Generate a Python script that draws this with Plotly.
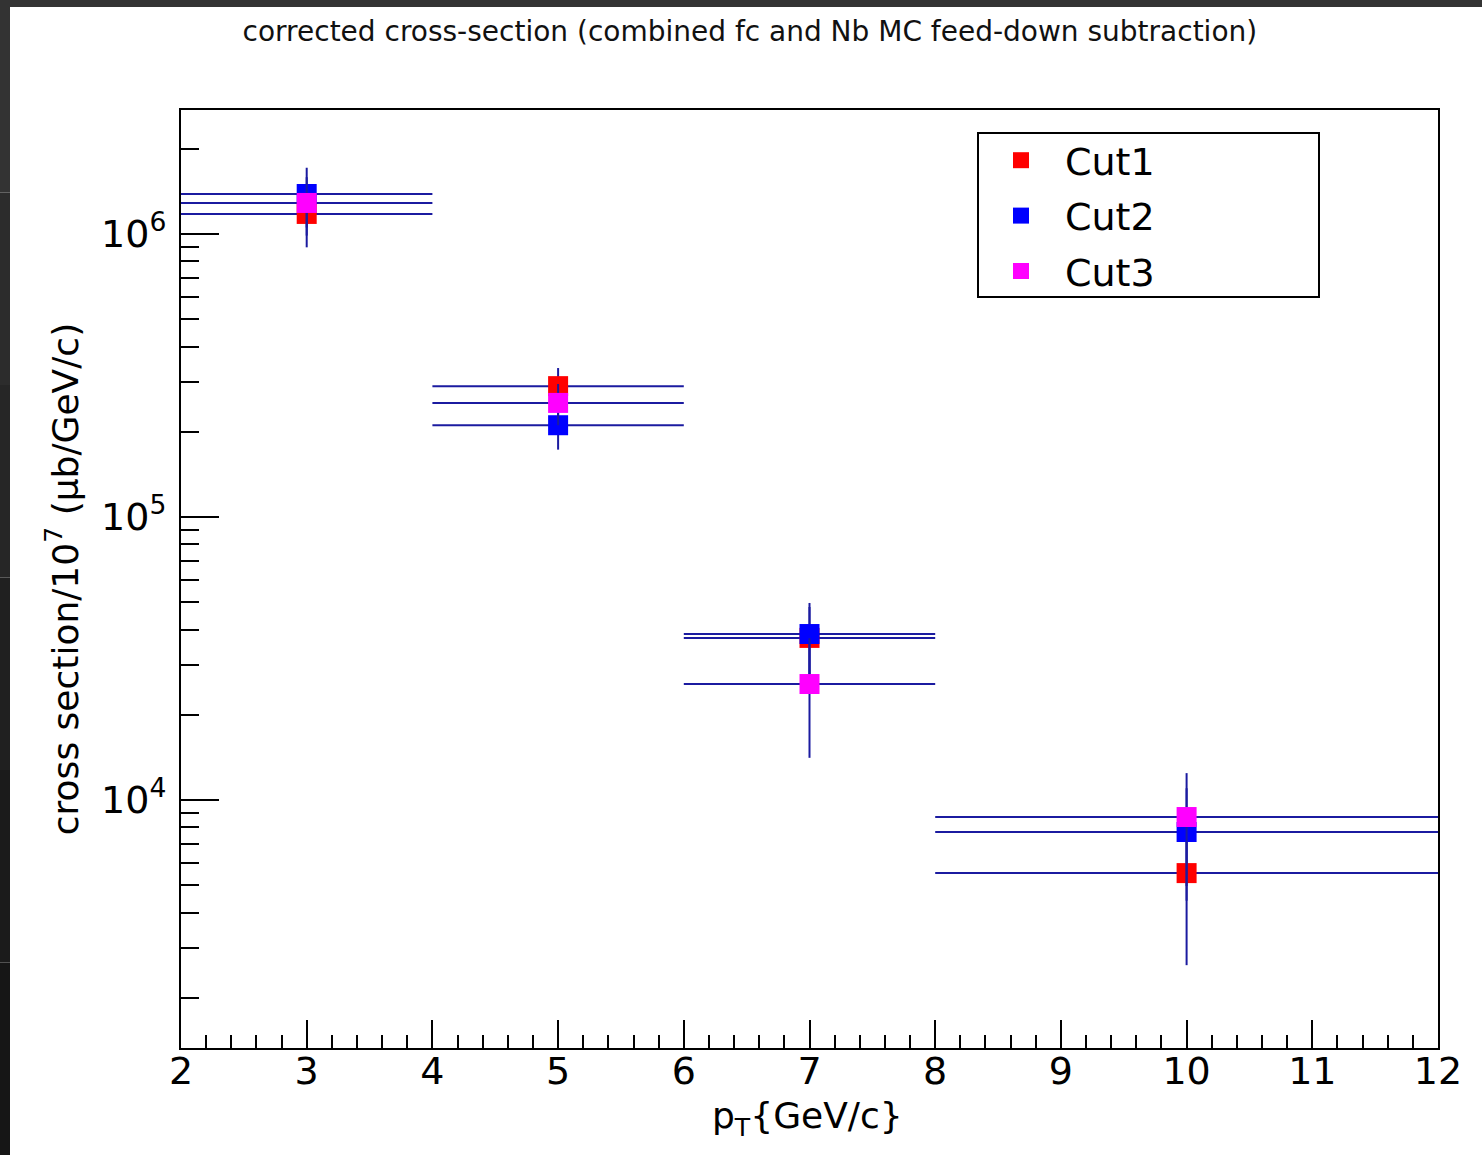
import plotly.graph_objects as go

# pT bin centres and half-widths (GeV/c)
pt_centres = [3, 5, 7, 10]
pt_halfwidths = [1, 1, 1, 2]

# corrected cross-section / 10^7 (ub/GeV/c) and statistical errors
cut1_vals = [1.177e6, 2.90e5, 3.74e4, 5.52e3]
cut1_errs = [0.28e6, 0.46e5, 1.07e4, 2.91e3]
cut2_vals = [1.384e6, 2.11e5, 3.86e4, 7.71e3]
cut2_errs = [0.33e6, 0.38e5, 1.11e4, 3.30e3]
cut3_vals = [1.287e6, 2.53e5, 2.57e4, 8.71e3]
cut3_errs = [0.30e6, 0.42e5, 1.16e4, 3.74e3]

series_names = ["Cut1", "Cut2", "Cut3"]
series_colors = ["#ff0000", "#0000ff", "#ff00ff"]
x_tick_vals = list(range(2, 13))
y_tick_vals = [1e4, 1e5, 1e6]
y_tick_text = ["10<sup>4</sup>", "10<sup>5</sup>", "10<sup>6</sup>"]

FONT = "DejaVu Sans"
ERR_COLOR = "#1b1ba0"

W, H = 1482, 1155
ML, MR, MT, MB = 181, 44, 110, 107
PW, PH = W - ML - MR, H - MT - MB


def px_x(px):
    return (px - ML) / PW


def px_y(py):
    return (H - MB - py) / PH


fig = go.Figure()

for i, (name, color, vals, errs) in enumerate(zip(
        series_names, series_colors,
        [cut1_vals, cut2_vals, cut3_vals],
        [cut1_errs, cut2_errs, cut3_errs])):
    fig.add_trace(go.Scatter(
        x=pt_centres, y=vals, mode="markers", name=name,
        legendgroup=name,
        marker=dict(symbol="square", size=20, color=color, line=dict(width=0)),
        error_x=dict(type="data", array=pt_halfwidths, color=ERR_COLOR,
                     thickness=2, width=0),
        error_y=dict(type="data", array=errs, color=ERR_COLOR,
                     thickness=2, width=0),
    ))

# minor tick positions: 2..9 in each decade
y_minor = [m * 10 ** e for e in range(3, 7) for m in range(2, 10)]

shapes = [
    # legend frame
    dict(type="rect", xref="paper", yref="paper",
         x0=px_x(978), x1=px_x(1319), y0=px_y(297), y1=px_y(133),
         line=dict(color="black", width=2), fillcolor="white", layer="below"),
    # dark window edge along the top
    dict(type="rect", xref="paper", yref="paper",
         x0=px_x(0), x1=px_x(W), y0=px_y(7), y1=px_y(0),
         line=dict(width=0), fillcolor="#343434", layer="above"),
]
# dark window edge along the left, shading downwards
edge_cols = ["#333333", "#2c2c2c", "#262626", "#202020", "#1b1b1b", "#161616"]
step = H / len(edge_cols)
for k, c in enumerate(edge_cols):
    shapes.append(dict(type="rect", xref="paper", yref="paper",
                       x0=px_x(0), x1=px_x(10),
                       y0=px_y(min(H, (k + 1) * step)), y1=px_y(k * step),
                       line=dict(width=0), fillcolor=c, layer="above"))

# x-axis title placed under the tick labels
annotations = [
    dict(text="p<sub>T</sub>{GeV/c}", xref="paper", yref="paper",
         x=px_x(807), y=px_y(1118), xanchor="center", yanchor="middle",
         showarrow=False, font=dict(family=FONT, size=36, color="black")),
]

fig.update_layout(
    width=W, height=H,
    margin=dict(l=ML, r=MR, t=MT, b=MB),
    paper_bgcolor="white", plot_bgcolor="white",
    font=dict(family=FONT, color="black"),
    title=dict(text="corrected cross-section (combined fc and Nb MC feed-down subtraction)",
               x=0.506, xref="container", xanchor="center",
               y=1 - 31 / H, yanchor="middle",
               font=dict(family=FONT, size=28, color="#111111")),
    showlegend=True,
    legend=dict(x=px_x(977), y=px_y(129), xanchor="left", yanchor="top",
                bgcolor="rgba(0,0,0,0)", borderwidth=0,
                font=dict(family=FONT, size=38, color="black"),
                itemwidth=78, tracegroupgap=3, traceorder="grouped"),
    shapes=shapes,
    annotations=annotations,
    xaxis=dict(
        range=[2, 12], tickmode="array", tickvals=x_tick_vals,
        ticks="inside", ticklen=28, tickwidth=2, tickcolor="black",
        showline=True, linecolor="black", linewidth=2, mirror=True,
        showgrid=False, zeroline=False, ticklabelstandoff=-12,
        tickfont=dict(family=FONT, size=38, color="black"),
        minor=dict(ticks="inside", ticklen=13, tickwidth=2, tickcolor="black",
                   dtick=0.2, tick0=2, showgrid=False),
    ),
    yaxis=dict(
        type="log", range=[3.124, 6.438],
        tickmode="array", tickvals=y_tick_vals, ticktext=y_tick_text,
        ticks="inside", ticklen=38, tickwidth=2, tickcolor="black",
        showline=True, linecolor="black", linewidth=2, mirror=True,
        showgrid=False, zeroline=False, ticklabelstandoff=5,
        tickfont=dict(family=FONT, size=38, color="black"),
        minor=dict(ticks="inside", ticklen=18, tickwidth=2, tickcolor="black",
                   tickmode="array", tickvals=y_minor, showgrid=False),
        title=dict(text="cross section/10<sup>7</sup> (\u03bcb/GeV/c)", standoff=12,
                   font=dict(family=FONT, size=36, color="black")),
    ),
)

fig.write_html("out.html")
